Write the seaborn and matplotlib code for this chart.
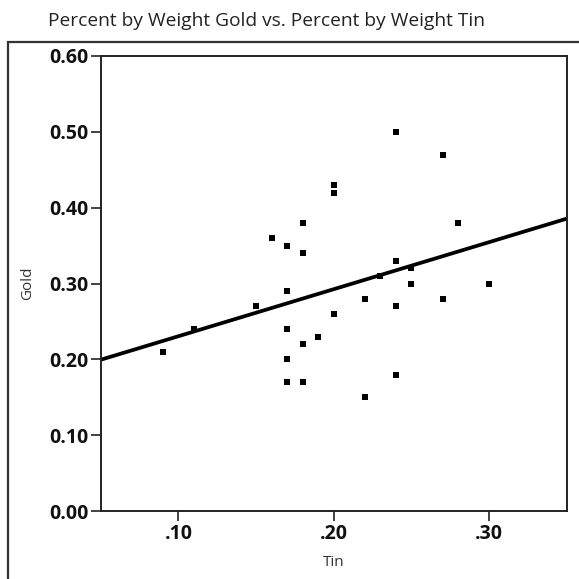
"""Scatter of gold vs tin weight percent with a linear fit line."""
import matplotlib
matplotlib.use("Agg")
import matplotlib.pyplot as plt
import pandas as pd
import seaborn as sns
from matplotlib.patches import Rectangle
from matplotlib.ticker import FuncFormatter

tin = [0.09, 0.11, 0.15, 0.16, 0.17, 0.17, 0.17, 0.17, 0.17, 0.18,
       0.18, 0.18, 0.18, 0.19, 0.20, 0.20, 0.20, 0.22, 0.22, 0.23,
       0.24, 0.24, 0.24, 0.24, 0.25, 0.25, 0.27, 0.27, 0.28, 0.30]
gold = [0.21, 0.24, 0.27, 0.36, 0.35, 0.29, 0.24, 0.20, 0.17, 0.38,
        0.34, 0.22, 0.17, 0.23, 0.43, 0.42, 0.26, 0.28, 0.15, 0.31,
        0.50, 0.33, 0.27, 0.18, 0.32, 0.30, 0.47, 0.28, 0.38, 0.30]

x_ticks = [0.10, 0.20, 0.30]
y_ticks = [0.00, 0.10, 0.20, 0.30, 0.40, 0.50, 0.60]


def main() -> None:
    df = pd.DataFrame({"Tin": tin, "Gold": gold})
    sns.set_theme(style="white")
    plt.rcParams["font.family"] = ["Open Sans", "DejaVu Sans"]

    fig = plt.figure(figsize=(5.79, 5.79), dpi=100)
    ax = fig.add_axes([0.174, 0.1174, 0.805, 0.7859])

    # outer frame, runs off the right and bottom of the image
    fig.patches.append(Rectangle((8 / 579, -0.1), 1.2, 1 - 42 / 579 + 0.1,
                                 transform=fig.transFigure, fill=False,
                                 edgecolor="#333333", linewidth=1.6))

    # limits first so the fit line spans the whole axis
    ax.set_xlim(0.05, 0.35)
    ax.set_ylim(0, 0.6)
    sns.regplot(data=df, x="Tin", y="Gold", ci=None, truncate=False, ax=ax,
                marker="s",
                scatter_kws={"s": 21, "color": "black", "alpha": 1,
                             "linewidths": 0},
                line_kws={"color": "black", "linewidth": 2.7})
    ax.set_xlim(0.05, 0.35)
    ax.set_ylim(0, 0.6)

    ax.set_xticks(x_ticks)
    ax.set_yticks(y_ticks)
    ax.xaxis.set_major_formatter(FuncFormatter(lambda v, _: f"{v:.2f}".lstrip("0")))
    ax.yaxis.set_major_formatter(FuncFormatter(lambda v, _: f"{v:.2f}"))
    ax.tick_params(axis="both", direction="out", length=7, width=1.2,
                   color="#222222", labelsize=14, pad=2,
                   bottom=True, left=True)
    for lbl in ax.get_xticklabels() + ax.get_yticklabels():
        lbl.set_fontweight("bold")
        lbl.set_color("#111111")
    for sp in ax.spines.values():
        sp.set_color("#222222")
        sp.set_linewidth(1.4)

    ax.set_xlabel("Tin", fontsize=11, color="#333333", labelpad=8)
    ax.set_ylabel("Gold", fontsize=11, color="#333333", labelpad=10)

    fig.text(266 / 579, 1 - 21 / 579, "Percent by Weight Gold vs. Percent by Weight Tin",
             ha="center", va="center", fontsize=13.8, color="#222222")

    fig.savefig("out.png", dpi=100)
    plt.close(fig)


if __name__ == "__main__":
    main()
